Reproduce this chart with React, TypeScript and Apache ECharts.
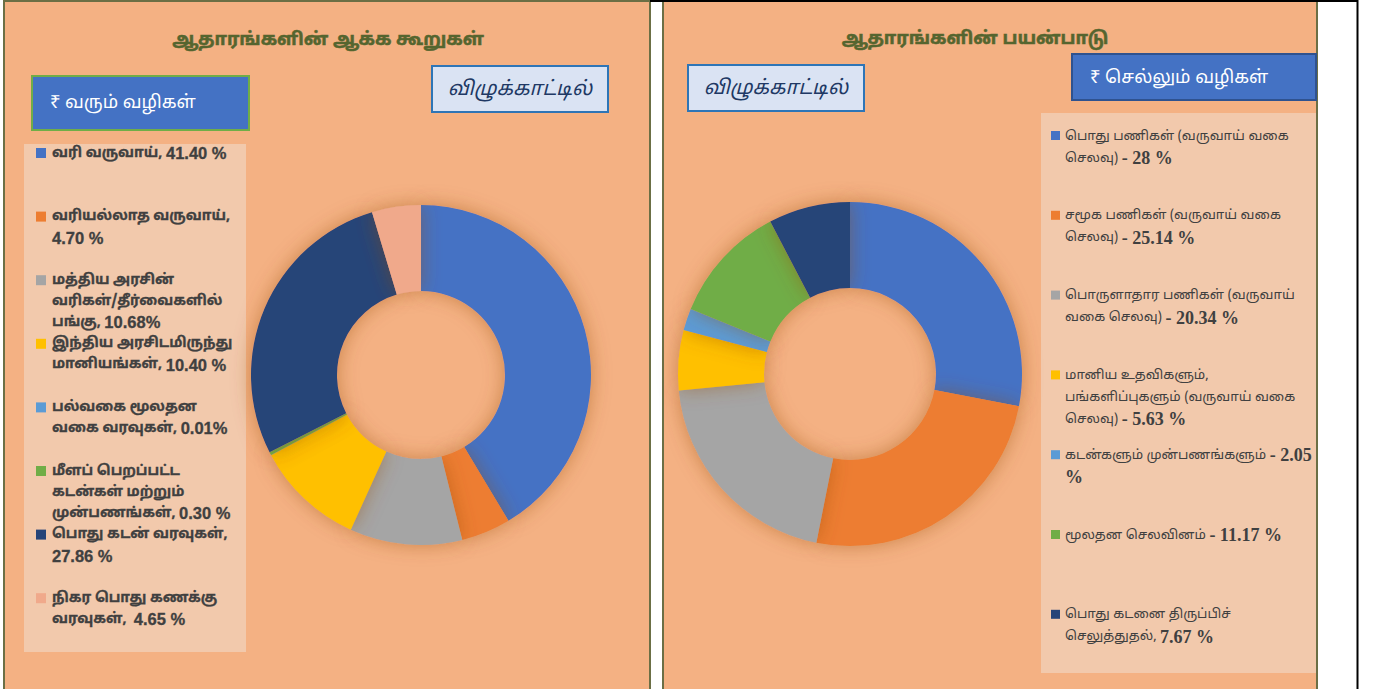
import React, { useEffect, useRef } from "react";
import * as echarts from "echarts";

const titles = ["ஆதாரங்களின் ஆக்க கூறுகள்", "ஆதாரங்களின் பயன்பாடு"];
const unitText = "விழுக்காட்டில்";
const boxLabels = ["₹ வரும் வழிகள்", "₹ செல்லும் வழிகள்"];

const leftNames = [
  "வரி வருவாய், ",
  "வரியல்லாத வருவாய்,\n",
  "மத்திய அரசின்\nவரிகள்/தீர்வைகளில்\nபங்கு, ",
  "இந்திய அரசிடமிருந்து\nமானியங்கள், ",
  "பல்வகை மூலதன\nவகை வரவுகள், ",
  "மீளப் பெறப்பட்ட\nகடன்கள் மற்றும்\nமுன்பணங்கள், ",
  "பொது கடன் வரவுகள்,\n",
  "நிகர பொது கணக்கு\nவரவுகள்,  ",
];
const leftValues = [41.4, 4.7, 10.68, 10.4, 0.01, 0.3, 27.86, 4.65];
const leftPct = [" %", " %", "%", " %", "%", " %", " %", " %"];
const leftColors = ["#4472C4", "#ED7D31", "#A5A5A5", "#FFC000", "#5B9BD5", "#70AD47", "#264478", "#F0A98B"];

const rightNames = [
  "பொது பணிகள் (வருவாய் வகை\nசெலவு) ",
  "சமூக பணிகள் (வருவாய் வகை\nசெலவு) ",
  "பொருளாதார பணிகள் (வருவாய்\nவகை செலவு) ",
  "மானிய உதவிகளும்,\nபங்களிப்புகளும் (வருவாய் வகை\nசெலவு) ",
  "கடன்களும் முன்பணங்களும் ",
  "மூலதன செலவினம் ",
  "பொது கடனை திருப்பிச்\nசெலுத்துதல், ",
];
const rightSep = ["- ", "- ", "- ", "- ", "- ", "- ", ""];
const rightValues = [28, 25.14, 20.34, 5.63, 2.05, 11.17, 7.67];
const rightPct = [" %", " %", " %", " %", "\n%", " %", " %"];
const rightColors = ["#4472C4", "#ED7D31", "#A5A5A5", "#FFC000", "#5B9BD5", "#70AD47", "#264478"];

const PANEL = "#F4B183";
const LEGEND_BG = "#F2C9AC";
const OLIVE = "#6B6F45";
const TITLE_COLOR = "#55652F";
const TAMIL = "'Noto Sans Tamil', 'Liberation Sans', sans-serif";

function pieName(s: string) {
  return s.replace(/\n/g, " ").replace(/[\s,\-]+$/, "");
}
function tagLines(s: string, tag: string) {
  return s.split("\n").map((p) => (p ? `{${tag}|${p}}` : "")).join("\n");
}

export default function App() {
  const ref = useRef<HTMLDivElement>(null);
  useEffect(() => {
    if (!ref.current) return;
    const chart = echarts.init(ref.current, undefined, { renderer: "svg" });

    const graphic: any[] = [];
    graphic.push({ type: "rect", z: -10, shape: { x: 4, y: 1, width: 646, height: 700 }, style: { fill: PANEL, stroke: OLIVE, lineWidth: 2 } });
    graphic.push({ type: "rect", z: -10, shape: { x: 663, y: 1, width: 654, height: 700 }, style: { fill: PANEL, stroke: OLIVE, lineWidth: 2 } });
    graphic.push({ type: "line", z: -5, shape: { x1: 650, y1: 1, x2: 1358, y2: 1 }, style: { stroke: "#000", lineWidth: 2 } });
    graphic.push({ type: "line", z: -5, shape: { x1: 1357.5, y1: 0, x2: 1357.5, y2: 689 }, style: { stroke: "#000", lineWidth: 2 } });

    [[328, 40], [975, 39]].forEach((p, i) => {
      graphic.push({
        type: "text", x: p[0], y: p[1],
        style: { text: titles[i], fill: TITLE_COLOR, stroke: TITLE_COLOR, lineWidth: 0.5, font: `bold 18px ${TAMIL}`, align: "center", verticalAlign: "middle" },
      });
    });

    graphic.push({ type: "rect", shape: { x: 32, y: 76, width: 217, height: 54 }, style: { fill: "#4472C4", stroke: "#70AD47", lineWidth: 2 } });
    graphic.push({ type: "text", x: 50, y: 103, style: { text: boxLabels[0], fill: "#fff", font: `18px ${TAMIL}`, align: "left", verticalAlign: "middle" } });
    graphic.push({ type: "rect", shape: { x: 1072, y: 54, width: 244, height: 46 }, style: { fill: "#4472C4", stroke: "#2F528F", lineWidth: 2 } });
    graphic.push({ type: "text", x: 1090, y: 78, style: { text: boxLabels[1], fill: "#fff", font: `18px ${TAMIL}`, align: "left", verticalAlign: "middle" } });

    [[432, 66], [688, 65]].forEach((p) => {
      graphic.push({ type: "rect", shape: { x: p[0], y: p[1], width: 176, height: 46 }, style: { fill: "#DAE3F3", stroke: "#2E75B6", lineWidth: 2 } });
      graphic.push({ type: "text", x: p[0] + 88, y: p[1] + 24, style: { text: unitText, fill: "#203864", font: `italic 20px ${TAMIL}`, align: "center", verticalAlign: "middle" } });
    });

    graphic.push({ type: "rect", shape: { x: 24, y: 144, width: 222, height: 508 }, style: { fill: LEGEND_BG } });
    graphic.push({ type: "rect", shape: { x: 1041, y: 113, width: 275, height: 560 }, style: { fill: LEGEND_BG } });

    leftNames.forEach((n, i) => {
      const cy = 153 + i * 63.6;
      graphic.push({ type: "rect", shape: { x: 36, y: cy - 5, width: 10, height: 10 }, style: { fill: leftColors[i] } });
      graphic.push({
        type: "text", x: 52, y: cy - 10.5,
        style: {
          text: n + tagLines(leftValues[i].toFixed(2) + leftPct[i], "n"),
          fill: "#404040", stroke: "#404040", lineWidth: 0.3,
          font: `bold 14px ${TAMIL}`, lineHeight: 21, align: "left", verticalAlign: "top",
          rich: { n: { font: "bold 16.5px 'Liberation Sans', sans-serif", fill: "#404040", stroke: "#404040", lineWidth: 0.3, lineHeight: 21 } },
        },
      });
    });

    rightNames.forEach((n, i) => {
      const cy = 136 + i * 79.8;
      const valTxt = tagLines(rightSep[i] + String(rightValues[i]) + rightPct[i], "n");
      graphic.push({ type: "rect", shape: { x: 1051, y: cy - 5, width: 9, height: 9 }, style: { fill: rightColors[i] } });
      graphic.push({
        type: "text", x: 1065, y: cy - 11,
        style: {
          text: n + valTxt,
          fill: "#404040", font: `13.3px ${TAMIL}`, lineHeight: 22, align: "left", verticalAlign: "top",
          rich: { n: { font: "bold 18px 'Liberation Serif', serif", fill: "#404040", lineHeight: 22 } },
        },
      });
    });

    const mkPie = (center: number[], radius: number[], names: string[], values: number[], colors: string[]) => ({
      type: "pie",
      center, radius,
      startAngle: 90, clockwise: true, silent: true,
      label: { show: false }, labelLine: { show: false },
      itemStyle: { borderWidth: 0, shadowBlur: 20, shadowColor: "rgba(150,75,15,0.45)" },
      emphasis: { disabled: true },
      data: values.map((v, i) => ({ name: pieName(names[i]), value: v, itemStyle: { color: colors[i] } })),
    });

    chart.setOption({
      animation: false,
      backgroundColor: "#ffffff",
      graphic,
      series: [
        mkPie([421, 375], [84, 170], leftNames, leftValues, leftColors),
        mkPie([850, 374], [86, 172], rightNames, rightValues, rightColors),
      ],
    });
    return () => chart.dispose();
  }, []);
  return <div ref={ref} style={{ position: "fixed", left: 0, top: 0, width: 1373, height: 689 }} />;
}
